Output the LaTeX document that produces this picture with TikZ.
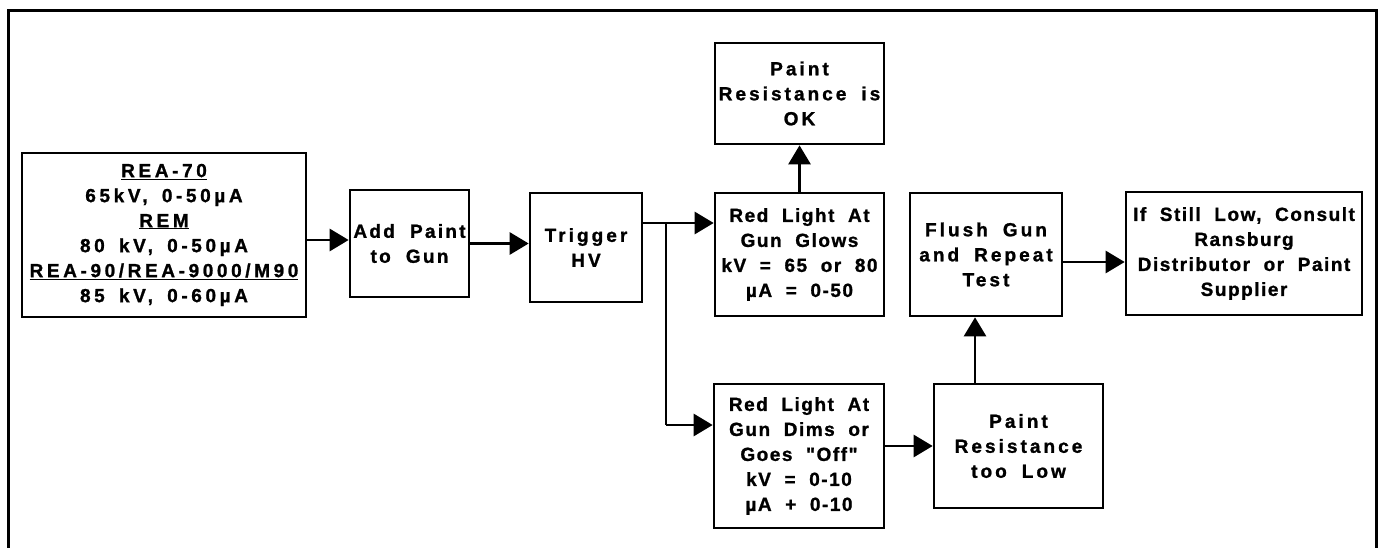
\documentclass[tikz,border=0pt]{standalone}
\usepackage{fontspec}
\newfontfamily\fA{Liberation Sans}[LetterSpace=8,WordSpace=2,BoldFeatures={FakeBold=1.2}]
\newfontfamily\fB{Liberation Sans}[LetterSpace=12,WordSpace=2,BoldFeatures={FakeBold=1.2}]
\newfontfamily\fC{Liberation Sans}[LetterSpace=16,WordSpace=1.8,BoldFeatures={FakeBold=1.2}]
\newfontfamily\fD{Liberation Sans}[LetterSpace=19,WordSpace=1.6,BoldFeatures={FakeBold=1.2}]
\usetikzlibrary{arrows.meta}
\tikzset{
  box/.style={draw, line width=2.7bp, inner sep=0pt, align=center,
    font=#1\bfseries\fontsize{19bp}{25bp}\selectfont},
  box/.default=\fA,
  arr/.style={line width=2.8bp, -{Triangle[length=19bp,width=22bp]}},
  conn/.style={line width=2.8bp},
  frame/.style={line width=3bp}
}
\begin{document}
\begin{tikzpicture}[x=1bp,y=-1bp]
\useasboundingbox (0,0) rectangle (1382,548);
\draw[frame] (8,570) -- (8,11) -- (1376,11) -- (1376,570);

\node[box=\fD, minimum width=284bp, minimum height=164bp] (src) at (164,235)
  {\underline{REA-70}\\65kV, 0-50µA\\\underline{REM}\\80 kV, 0-50µA\\\underline{REA-90/REA-9000/M90}\\85 kV, 0-60µA};
\node[box=\fB, minimum width=119bp, minimum height=107bp] (add) at (409.5,243.5)
  {Add Paint\\to Gun};
\node[box=\fC, minimum width=112bp, minimum height=109bp] (trig) at (586,247.5)
  {Trigger\\HV};
\node[box, minimum width=169bp, minimum height=123bp] (glow) at (799.5,254.5)
  {Red Light At\\Gun Glows\\kV = 65 or 80\\µA = 0-50};
\node[box=\fC, minimum width=169bp, minimum height=101bp] (ok) at (799.5,93.5)
  {Paint\\Resistance is\\OK};
\node[box, minimum width=170bp, minimum height=144bp] (dims) at (799,456)
  {Red Light At\\Gun Dims or\\Goes "Off"\\kV = 0-10\\µA + 0-10};
\node[box=\fC, minimum width=169bp, minimum height=124bp] (low) at (1018.5,446)
  {Paint\\Resistance\\too Low};
\node[box=\fC, minimum width=152bp, minimum height=123bp] (flush) at (986,254.5)
  {Flush Gun\\and Repeat\\Test};
\node[box, minimum width=236bp, minimum height=123bp] (ifs) at (1244,253.5)
  {If Still Low, Consult\\Ransburg\\Distributor or Paint\\Supplier};

\coordinate (y1) at (0,240);
\coordinate (br) at (666,223);
\coordinate (bd) at (666,425);
\coordinate (x7) at (975,0);
\coordinate (y9) at (0,262);

\draw[arr] (src.east |- y1) -- (add.west |- y1);
\draw[arr] (add.east) -- (add.east -| trig.west);
\draw[arr] (trig.east |- br) -- (glow.west |- br);
\draw[conn] (br) -- (bd);
\draw[arr] (bd) -- (dims.west |- bd);
\draw[arr] (glow.north) -- (ok.south);
\draw[arr] (dims.east |- low.west) -- (low.west);
\draw[arr] (low.north -| x7) -- (flush.south -| x7);
\draw[arr] (flush.east |- y9) -- (ifs.west |- y9);
\end{tikzpicture}
\end{document}
